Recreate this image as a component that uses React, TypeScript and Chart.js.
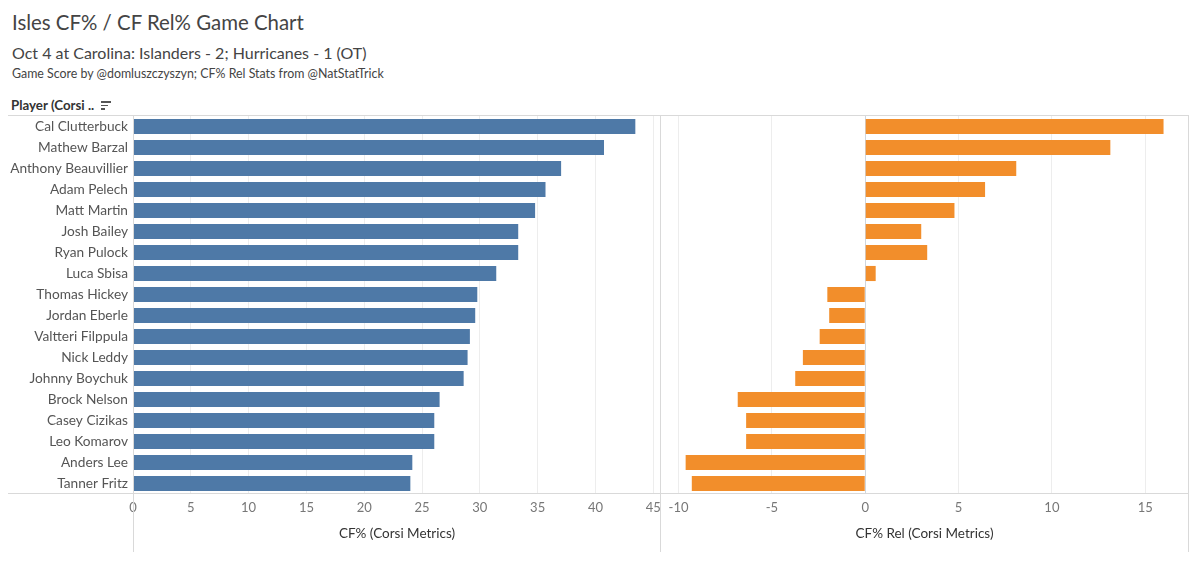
import React, { useEffect, useRef } from "react";
import { Chart, registerables } from "chart.js";

Chart.register(...registerables);

const players = [
  "Cal Clutterbuck",
  "Mathew Barzal",
  "Anthony Beauvillier",
  "Adam Pelech",
  "Matt Martin",
  "Josh Bailey",
  "Ryan Pulock",
  "Luca Sbisa",
  "Thomas Hickey",
  "Jordan Eberle",
  "Valtteri Filppula",
  "Nick Leddy",
  "Johnny Boychuk",
  "Brock Nelson",
  "Casey Cizikas",
  "Leo Komarov",
  "Anders Lee",
  "Tanner Fritz",
];

const cfPct = [
  43.45, 40.74, 37.03, 35.68, 34.78, 33.32, 33.32, 31.42, 29.78, 29.6, 29.14,
  28.94, 28.6, 26.52, 26.06, 26.06, 24.16, 23.99,
];

const cfRel = [
  15.98, 13.13, 8.09, 6.42, 4.78, 3.0, 3.32, 0.56, -2.03, -1.93, -2.44, -3.34,
  -3.75, -6.83, -6.38, -6.38, -9.62, -9.29,
];

const cfRange = [0, 45.67];
const relRange = [-10.94, 17.29];
const tickStep = 5;

const TITLE = "Isles CF% / CF Rel% Game Chart";
const SUBTITLE = "Oct 4 at Carolina: Islanders - 2; Hurricanes - 1 (OT)";
const CREDIT = "Game Score by @domluszczyszyn; CF% Rel Stats from @NatStatTrick";
const HEADER = "Player (Corsi ..";
const LEFT_AXIS_TITLE = "CF% (Corsi Metrics)";
const RIGHT_AXIS_TITLE = "CF% Rel (Corsi Metrics)";

const FONT = 'Lato, "Open Sans", "DejaVu Sans", sans-serif';
const BLUE = "#4e79a7";
const ORANGE = "#f28e2b";
const LINE = "#d9d9d9";

function xScale(range: number[], titleText: string) {
  return {
    type: "linear" as const,
    min: range[0],
    max: range[1],
    afterFit: (s: any) => {
      s.height = 79;
      s.paddingLeft = 0;
      s.paddingRight = 0;
    },
    border: { display: false },
    grid: {
      drawTicks: false,
      color: (ctx: any) =>
        ctx.tick && ctx.tick.value === 0 ? "#cfd6de" : "#ededed",
      lineWidth: 1,
    },
    ticks: {
      stepSize: tickStep,
      includeBounds: false,
      padding: 6,
      color: "#777",
      font: { family: FONT, size: 13 },
      maxRotation: 0,
      autoSkip: false,
    },
    title: {
      display: true,
      text: titleText,
      color: "#333",
      font: { family: FONT, size: 13.5 },
      padding: { top: 0, bottom: 31 },
    },
  };
}

export default function App() {
  const leftRef = useRef<HTMLCanvasElement>(null);
  const rightRef = useRef<HTMLCanvasElement>(null);

  useEffect(() => {
    const left = new Chart(leftRef.current as HTMLCanvasElement, {
      type: "bar",
      data: {
        labels: players,
        datasets: [
          {
            data: cfPct,
            backgroundColor: BLUE,
            borderWidth: 0,
            barPercentage: 0.72,
            categoryPercentage: 1,
          },
        ],
      },
      options: {
        indexAxis: "y",
        responsive: false,
        animation: false,
        layout: { padding: { top: 6, right: 1, left: 0, bottom: 0 } },
        plugins: { legend: { display: false }, tooltip: { enabled: false } },
        scales: {
          x: xScale(cfRange, LEFT_AXIS_TITLE),
          y: {
            type: "category",
            afterFit: (s: any) => {
              s.width = 133;
              s.paddingTop = 0;
              s.paddingBottom = 0;
            },
            border: { display: false },
            grid: { display: false, drawTicks: false },
            ticks: {
              padding: 5,
              color: "#555",
              font: { family: FONT, size: 13.7 },
              autoSkip: false,
            },
          },
        },
      },
    });

    const right = new Chart(rightRef.current as HTMLCanvasElement, {
      type: "bar",
      data: {
        labels: players,
        datasets: [
          {
            data: cfRel,
            backgroundColor: ORANGE,
            borderWidth: 0,
            barPercentage: 0.72,
            categoryPercentage: 1,
          },
        ],
      },
      options: {
        indexAxis: "y",
        responsive: false,
        animation: false,
        layout: { padding: { top: 6, right: 2, left: 0, bottom: 0 } },
        plugins: { legend: { display: false }, tooltip: { enabled: false } },
        scales: {
          x: xScale(relRange, RIGHT_AXIS_TITLE),
          y: {
            type: "category",
            display: false,
          },
        },
      },
    });

    return () => {
      left.destroy();
      right.destroy();
    };
  }, []);

  const hLine = (top: number, l: number, r: number) => (
    <div
      style={{
        position: "absolute",
        left: l,
        top,
        width: r - l,
        height: 1,
        background: LINE,
      }}
    />
  );
  const vLine = (left: number, t: number, b: number) => (
    <div
      style={{
        position: "absolute",
        left,
        top: t,
        width: 1,
        height: b - t,
        background: LINE,
      }}
    />
  );

  return (
    <div
      style={{
        position: "absolute",
        left: 0,
        top: 0,
        width: 1200,
        height: 573,
        background: "#fff",
        overflow: "hidden",
        fontFamily: FONT,
      }}
    >
      <div
        style={{
          position: "absolute",
          left: 12,
          top: 9,
          fontSize: 20.4,
          color: "#444",
          whiteSpace: "nowrap",
          lineHeight: "26px",
        }}
      >
        {TITLE}
      </div>
      <div
        style={{
          position: "absolute",
          left: 12,
          top: 43,
          fontSize: 16,
          color: "#444",
          whiteSpace: "nowrap",
          lineHeight: "20px",
        }}
      >
        {SUBTITLE}
      </div>
      <div
        style={{
          position: "absolute",
          left: 12,
          top: 66,
          fontSize: 12.4,
          color: "#444",
          whiteSpace: "nowrap",
          lineHeight: "16px",
        }}
      >
        {CREDIT}
      </div>
      <div
        style={{
          position: "absolute",
          left: 11,
          top: 97,
          fontSize: 13.3,
          fontWeight: 700,
          color: "#333",
          whiteSpace: "nowrap",
          lineHeight: "16px",
        }}
      >
        {HEADER}
      </div>
      <div style={{ position: "absolute", left: 101, top: 101, width: 10, height: 1.5, background: "#555" }} />
      <div style={{ position: "absolute", left: 101, top: 104.5, width: 7, height: 1.5, background: "#555" }} />
      <div style={{ position: "absolute", left: 101, top: 108, width: 4, height: 1.5, background: "#555" }} />

      <canvas
        ref={leftRef}
        width={662}
        height={463}
        style={{ position: "absolute", left: 0, top: 110, width: 662, height: 463 }}
      />
      <canvas
        ref={rightRef}
        width={529}
        height={463}
        style={{ position: "absolute", left: 661, top: 110, width: 529, height: 463 }}
      />

      {hLine(115, 8, 1189)}
      {hLine(493, 8, 1189)}
      {vLine(133, 115, 552)}
      {vLine(660, 115, 552)}
      {vLine(1188, 115, 552)}
    </div>
  );
}
